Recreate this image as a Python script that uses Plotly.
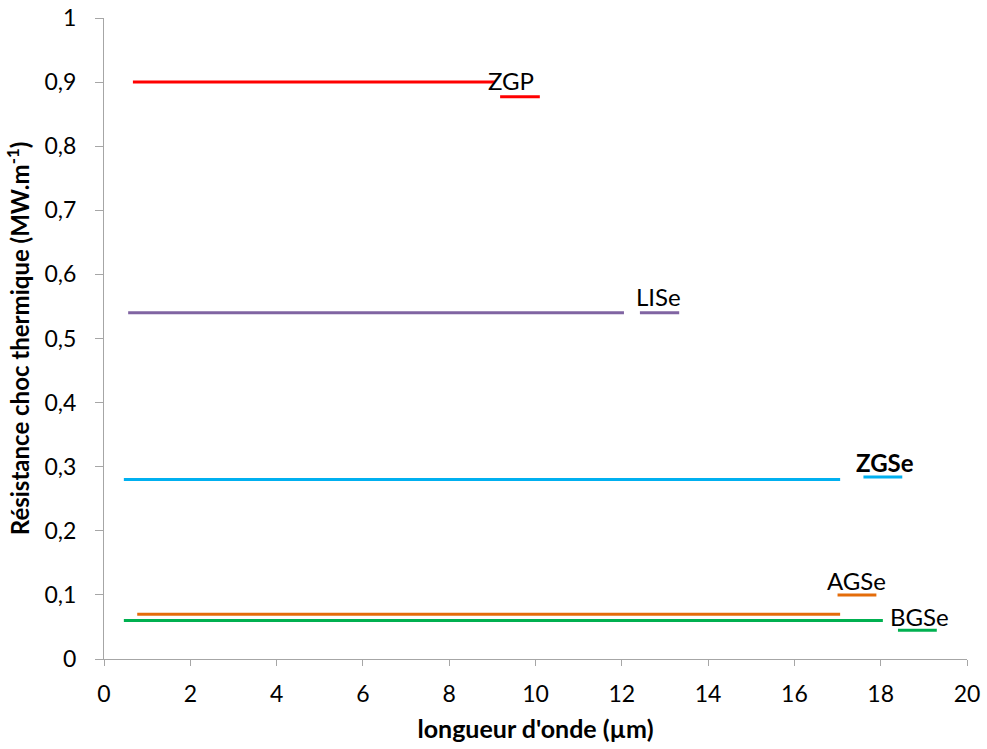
import plotly.graph_objects as go

# Data
materials = ["ZGP", "LISe", "ZGSe", "AGSe", "BGSe"]
colors = ["#FF0000", "#8064A2", "#00B0F0", "#E46C0A", "#00B050"]
resistance = [0.90, 0.54, 0.28, 0.07, 0.06]
x_start = [0.67, 0.56, 0.46, 0.77, 0.46]
x_end = [9.06, 12.05, 17.06, 17.06, 18.05]

# legend-like marker segments next to labels
seg_x0 = [9.18, 12.42, 17.6, 17.0, 18.4]
seg_x1 = [10.1, 13.33, 18.5, 17.9, 19.3]
seg_y = [0.877, 0.540, 0.284, 0.100, 0.045]
label_x = [9.43, 12.86, 18.1, 17.45, 18.9]
label_y = [0.902, 0.565, 0.306, 0.123, 0.066]
label_bold = [False, False, True, False, False]

y_ticks = [0, 0.1, 0.2, 0.3, 0.4, 0.5, 0.6, 0.7, 0.8, 0.9, 1.0]
y_ticktext = ["0", "0,1", "0,2", "0,3", "0,4", "0,5", "0,6", "0,7", "0,8", "0,9", "1"]
x_ticks = list(range(0, 21, 2))

FONT = "Lato, sans-serif"

fig = go.Figure()
for i, m in enumerate(materials):
    fig.add_trace(go.Scatter(x=[x_start[i], x_end[i]], y=[resistance[i], resistance[i]],
                             mode="lines", line=dict(color=colors[i], width=3),
                             name=m, showlegend=False, hoverinfo="skip"))
    fig.add_trace(go.Scatter(x=[seg_x0[i], seg_x1[i]], y=[seg_y[i], seg_y[i]],
                             mode="lines", line=dict(color=colors[i], width=3),
                             showlegend=False, hoverinfo="skip"))
    txt = f"<b>{m}</b>" if label_bold[i] else m
    fig.add_annotation(x=label_x[i], y=label_y[i], text=txt, showarrow=False,
                       xanchor="center", yanchor="middle",
                       font=dict(family=FONT, size=24, color="#000000"))

axis_common = dict(showline=True, linecolor="#A6A6A6", linewidth=1,
                   ticks="outside", tickcolor="#A6A6A6", showgrid=False,
                   zeroline=False, automargin=False, ticklabeloverflow="allow",
                   tickfont=dict(family=FONT, size=23, color="#000000"))

fig.update_xaxes(range=[0, 20], tickvals=x_ticks, ticklen=6, ticklabelstandoff=8,
                 title=dict(text="<b>longueur d'onde (µm)</b>", font=dict(family=FONT, size=25, color="#000000"), standoff=14),
                 **axis_common)
fig.update_yaxes(range=[0, 1], tickvals=y_ticks, ticktext=y_ticktext, ticklen=8, ticklabelstandoff=14,
                 title=dict(text="<b>Résistance choc thermique (MW.m<sup>-1</sup>)</b>", font=dict(family=FONT, size=24, color="#000000"), standoff=8),
                 **axis_common)

fig.update_layout(width=987, height=749, plot_bgcolor="white", paper_bgcolor="white",
                  margin=dict(l=104, r=20, t=18, b=90), showlegend=False)

# remove the page body's default margin so the figure starts at the window corner
fig.write_html("out.html", config={"displayModeBar": False},
               post_script="document.body.style.margin='0';document.body.style.overflow='hidden';")
